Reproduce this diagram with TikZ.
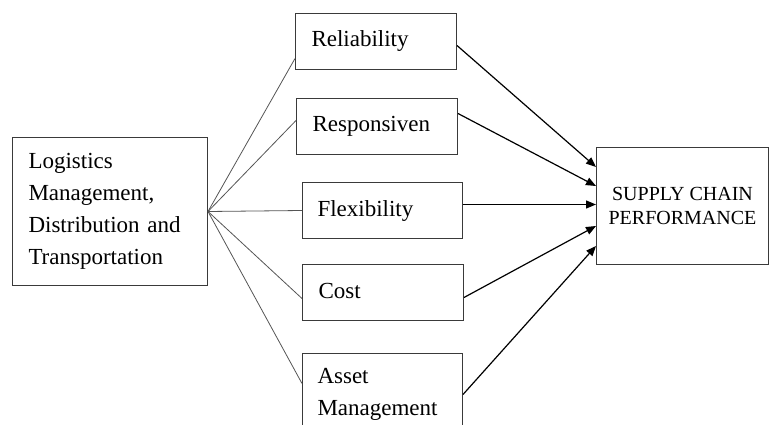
\documentclass[tikz,border=0pt]{standalone}
\usepackage{fontspec}
\setmainfont{Liberation Serif}
\usetikzlibrary{arrows.meta, calc}
\definecolor{EdgeGray}{HTML}{3A3A3A}
\definecolor{LinkGray}{HTML}{555555}

\tikzset{
  factorbox/.style={draw=EdgeGray, line width=1pt, anchor=north west,
        align=left, font=\fontsize{23}{32}\selectfont},
  oneline/.style={minimum height=56pt, text height=16pt, text depth=5pt},
  link/.style={draw=LinkGray, line width=0.8pt},
  push/.style={draw=black, line width=1.2pt, -{Triangle[length=10pt,width=8pt]}},
}

\begin{document}
\begin{tikzpicture}[x=1pt, y=-1pt]
  \clip (0,0) rectangle (769,425);

  % left block
  \node[factorbox, minimum width=195pt, minimum height=148pt,
        inner xsep=16pt, text width=163pt] (logi) at (12,137)
    {Logistics\\ Management,\\ Distribution and\\ Transportation};

  % middle factors
  \node[factorbox, oneline, minimum width=161pt, inner xsep=16pt, text width=129pt]
    (rel) at (295,13) {Reliability};
  \node[factorbox, oneline, minimum width=161pt, inner xsep=16pt, text width=129pt]
    (resp) at (296,98) {Responsiven};
  \node[factorbox, oneline, minimum width=160pt, inner xsep=15pt, text width=130pt]
    (flex) at (302,182) {Flexibility};
  \node[factorbox, oneline, minimum width=161pt, inner xsep=16pt, text width=129pt]
    (cost) at (302,264) {Cost};
  \node[factorbox, minimum width=160pt, minimum height=82pt,
        inner xsep=15pt, text width=130pt] (asset) at (302,353)
    {Asset\\ Management};

  % outcome
  \node[draw=EdgeGray, line width=1pt, anchor=north west, align=center,
        minimum width=172pt, minimum height=117pt,
        font=\fontsize{20}{23.4}\selectfont] (scp) at (596,147)
    {SUPPLY CHAIN\\ PERFORMANCE};

  \foreach \n/\s in {rel/-17, resp/6, flex/0, cost/-6, asset/11}
    \draw[link] (logi.east) -- ([yshift=\s pt]\n.west);

  \foreach \n/\a/\b in {rel/-4/39, resp/13/20, flex/6/1.5, cost/-5/-20, asset/0/-40}
    \draw[push] ([yshift=\a pt]\n.east) -- ([yshift=\b pt]scp.west);
\end{tikzpicture}
\end{document}
